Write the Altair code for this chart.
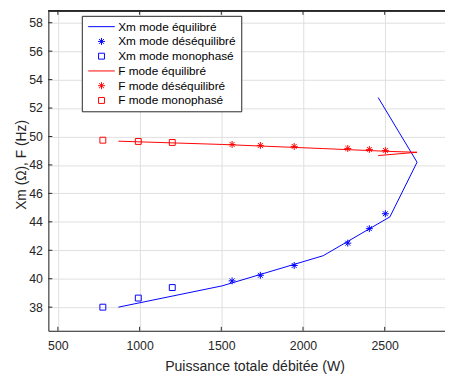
import altair as alt
import pandas as pd

BLUE = "#0000ff"
RED = "#ff0000"
AX = "#262626"
FONT = "Liberation Sans"

labels = ["Xm mode équilibré", "Xm mode déséquilibré", "Xm mode monophasé",
          "F mode équilibré", "F mode déséquilibré", "F mode monophasé"]

# equilibrium curves (lines), in drawing order
eq_p = [870, 1506, 2124, 2532, 2698, 2460]
xm_eq = [38.0, 39.5, 41.62, 44.35, 48.19, 52.74]
f_eq = [49.67, 49.44, 49.15, 48.95, 48.89, 48.66]

# unbalanced mode (stars)
deseq_p = [1566, 1739, 1946, 2274, 2406, 2504]
xm_deseq = [39.85, 40.24, 40.93, 42.5, 43.52, 44.57]
f_deseq = [49.44, 49.37, 49.30, 49.16, 49.09, 49.02]

# single-phase mode (squares)
mono_p = [775, 992, 1200]
xm_mono = [38.0, 38.64, 39.38]
f_mono = [49.74, 49.65, 49.58]

x_ticks = [500, 1000, 1500, 2000, 2500]
y_ticks = [38, 40, 42, 44, 46, 48, 50, 52, 54, 56, 58]

STAR = "M-1,0L1,0M0,-1L0,1M-0.7,-0.7L0.7,0.7M-0.7,0.7L0.7,-0.7"
LINE = "M-9,0L9,0"
shapes = [LINE, STAR, "square", LINE, STAR, "square"]
colors = [BLUE, BLUE, BLUE, RED, RED, RED]
sizes = [9, 50, 36, 9, 50, 36]

XDOM = [441.6, 2869]
YDOM = [36.34, 58.83]
W, H = 403, 325

line_df = pd.DataFrame({
    "P": eq_p + eq_p,
    "v": xm_eq + f_eq,
    "s": [labels[0]] * len(eq_p) + [labels[3]] * len(eq_p),
    "i": list(range(len(eq_p))) * 2,
})
pts_df = pd.DataFrame({
    "P": deseq_p + mono_p + deseq_p + mono_p,
    "v": xm_deseq + xm_mono + f_deseq + f_mono,
    "s": [labels[1]] * 6 + [labels[2]] * 3 + [labels[4]] * 6 + [labels[5]] * 3,
})

xs = alt.Scale(domain=XDOM, nice=False, zero=False)
ys = alt.Scale(domain=YDOM, nice=False, zero=False)

xaxis = alt.Axis(values=x_ticks, format="d", grid=True, gridColor="#dedede", ticks=False,
                 domainColor=AX, labelColor=AX, labelFont=FONT, labelFontSize=12.5,
                 labelPadding=9, title="Puissance totale débitée (W)", titleFont=FONT,
                 titleFontSize=14.3, titleFontWeight="normal", titleColor=AX,
                 titleX=209.5, titlePadding=8, labelOverlap=False)
yaxis = alt.Axis(values=y_ticks, format="d", grid=True, gridColor="#dedede", ticks=False,
                 domainColor=AX, labelColor=AX, labelFont=FONT, labelFontSize=12.5,
                 labelPadding=6, title="Xm (Ω), F (Hz)", titleFont=FONT,
                 titleFontSize=14, titleFontWeight="normal", titleColor=AX,
                 titleX=-20, titleY=156, labelOverlap=False)

legend = alt.Legend(title=None, orient="none", legendX=34, legendY=5,
                    fillColor="white", strokeColor=AX, padding=5, rowPadding=3,
                    labelFont=FONT, labelFontSize=12, labelColor="black",
                    symbolStrokeWidth=1, symbolOffset=9, labelOffset=11)

cscale = alt.Scale(domain=labels, range=colors)
X = alt.X("P:Q", scale=xs, axis=xaxis)
Y = alt.Y("v:Q", scale=ys, axis=yaxis)

lines = alt.Chart(line_df).mark_line(strokeWidth=1, clip=True).encode(
    x=X, y=Y,
    detail="s:N",
    order="i:Q",
    color=alt.Color("s:N", scale=cscale, legend=legend),
)

points = alt.Chart(pts_df).mark_point(filled=False, strokeWidth=1, opacity=1).encode(
    x=X, y=Y,
    color=alt.Color("s:N", scale=cscale, legend=legend),
    shape=alt.Shape("s:N", scale=alt.Scale(domain=labels, range=shapes), legend=legend),
    size=alt.Size("s:N", scale=alt.Scale(type="ordinal", domain=labels, range=sizes),
                  legend=legend),
)

xt_df = pd.DataFrame({"t": x_ticks})
yt_df = pd.DataFrame({"t": y_ticks})
XT = alt.X("t:Q", scale=xs, axis=xaxis)
YT = alt.Y("t:Q", scale=ys, axis=yaxis)
tick_bottom = alt.Chart(xt_df).mark_rule(color=AX, strokeWidth=1).encode(
    x=XT, y=alt.value(H), y2=alt.value(H - 4))
tick_top = alt.Chart(xt_df).mark_rule(color=AX, strokeWidth=1).encode(
    x=XT, y=alt.value(0), y2=alt.value(4))
tick_left = alt.Chart(yt_df).mark_rule(color=AX, strokeWidth=1).encode(
    y=YT, x=alt.value(0), x2=alt.value(4))
top_border = alt.Chart(xt_df).mark_rule(color=AX, strokeWidth=1).encode(
    x=alt.value(0), x2=alt.value(W), y=alt.value(0))

chart = alt.layer(lines, points, tick_bottom, tick_top, tick_left, top_border).properties(
    width=W, height=H, autosize="none",
    padding={"left": 41, "top": 0, "right": 0, "bottom": 43},
).configure_view(stroke=None).configure(background="white")

chart.save("out.html", embed_options={"renderer": "svg", "actions": False})
